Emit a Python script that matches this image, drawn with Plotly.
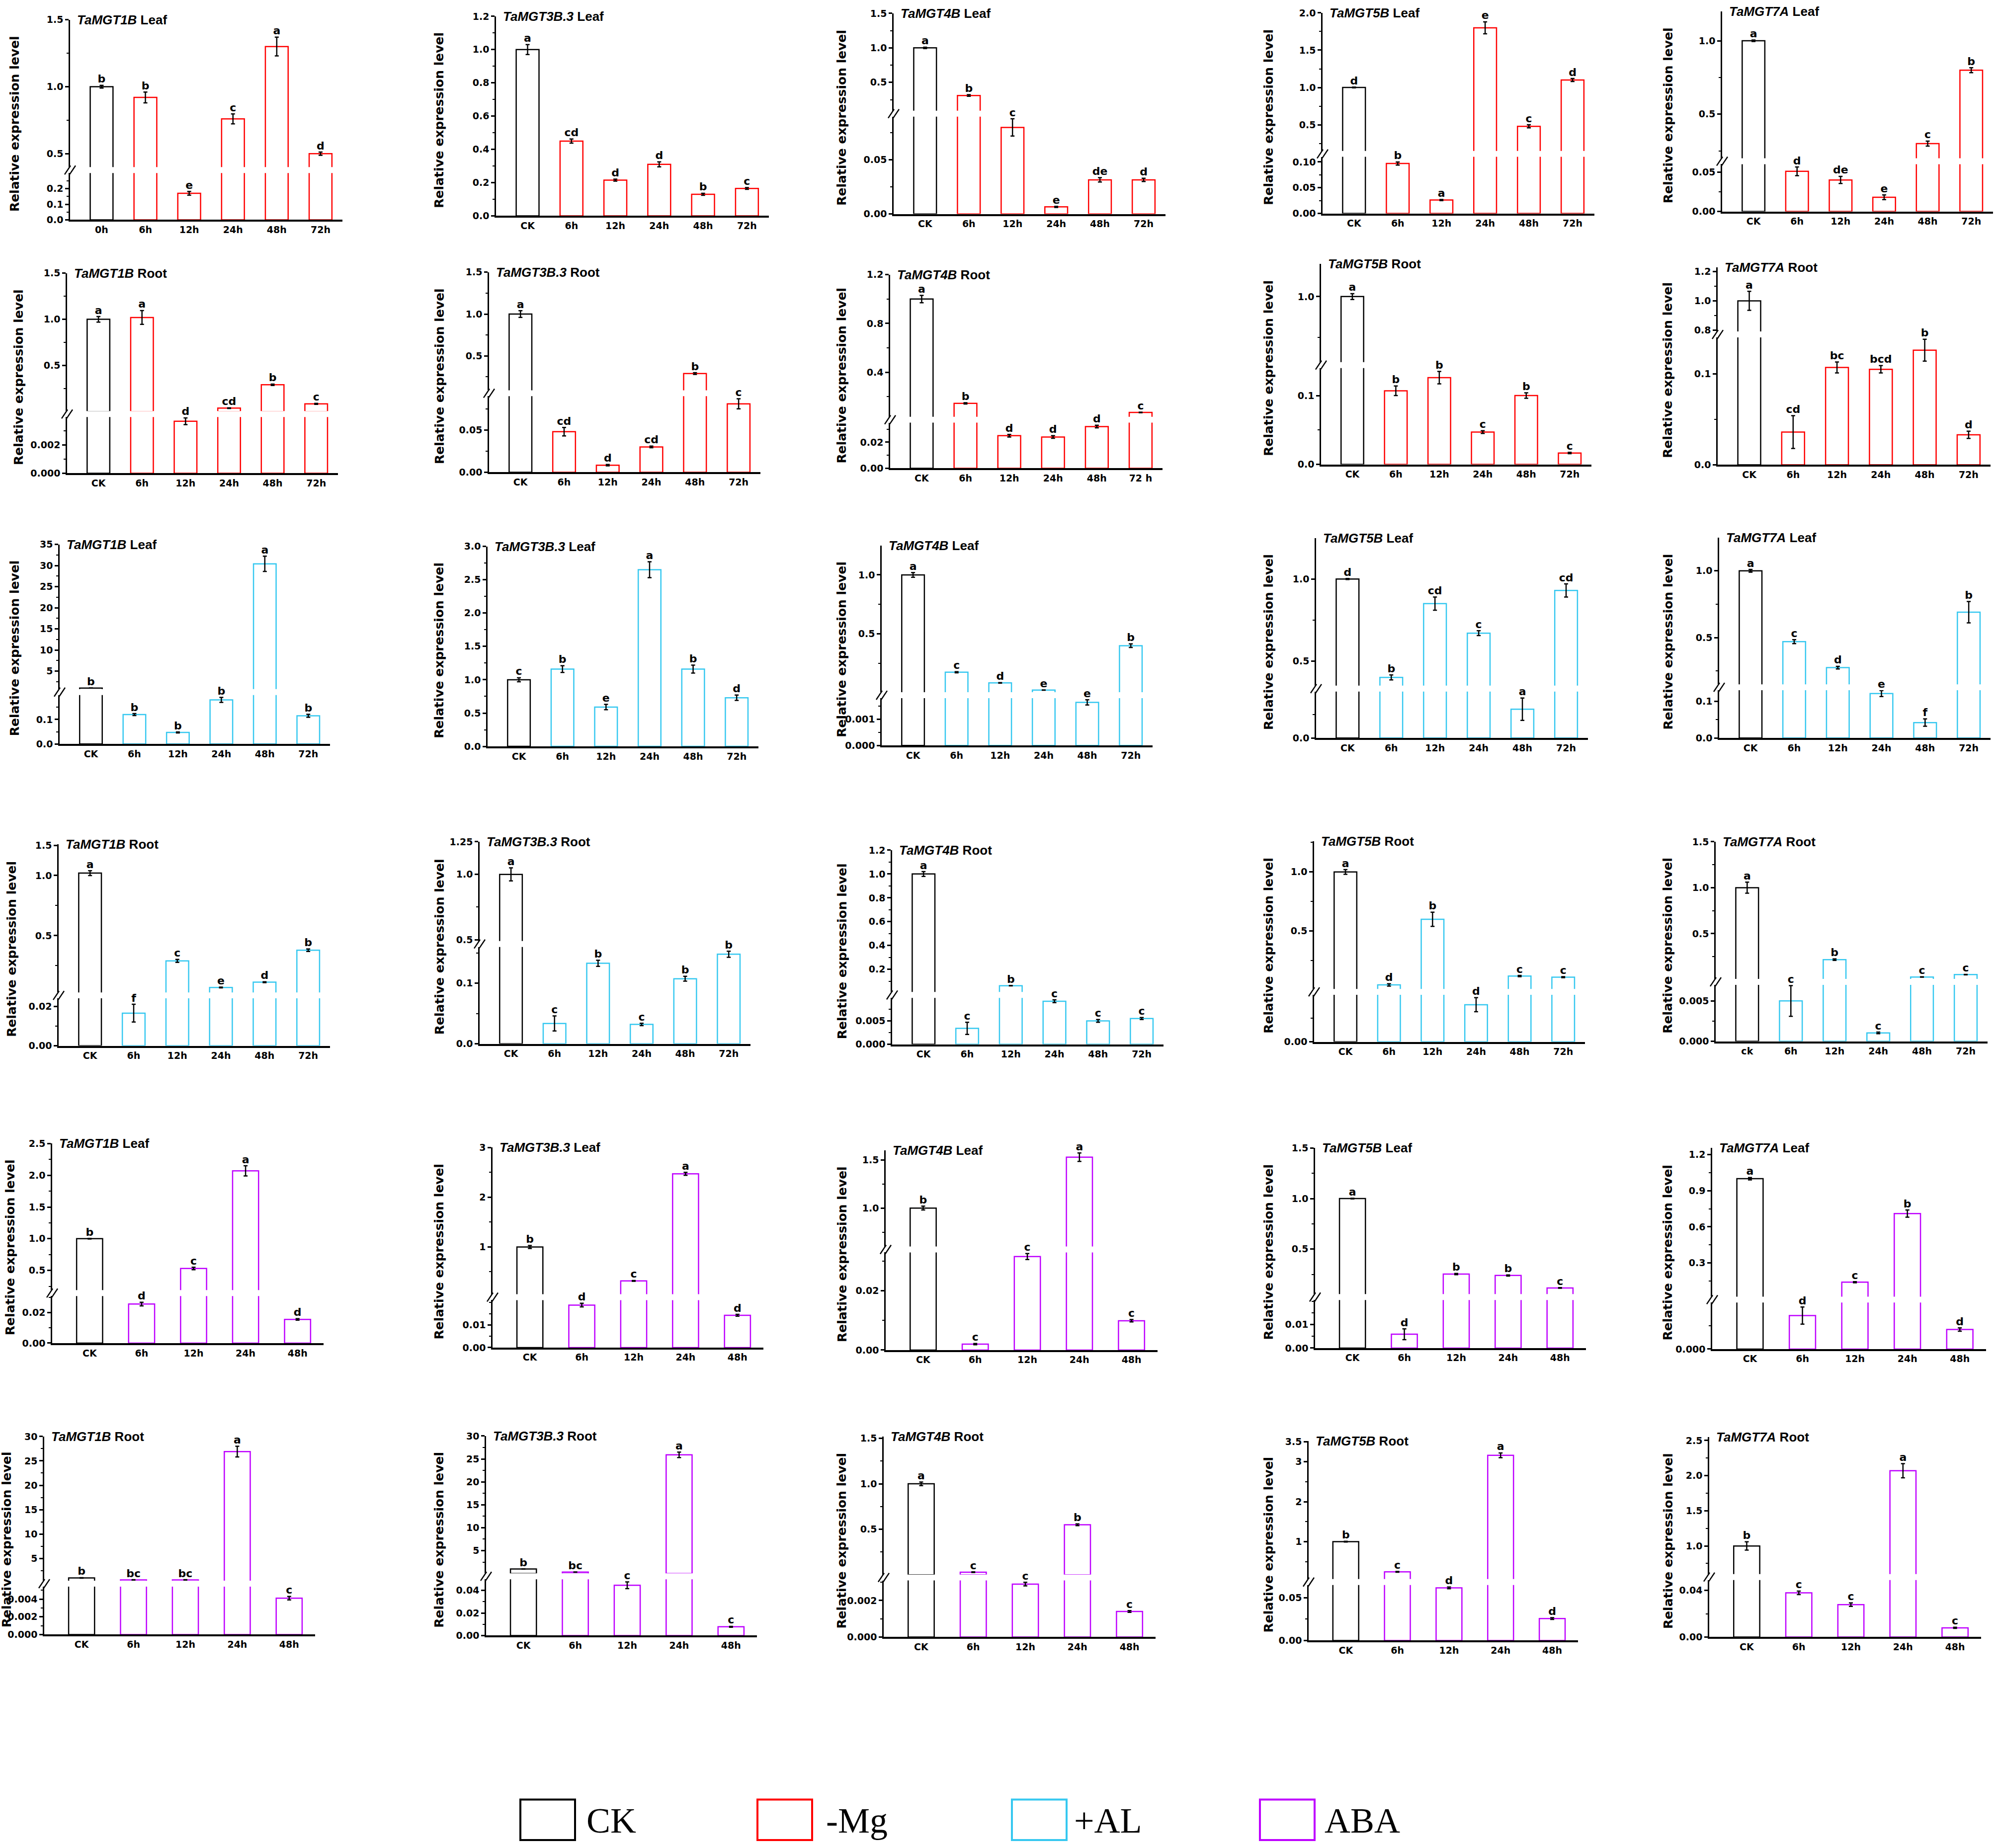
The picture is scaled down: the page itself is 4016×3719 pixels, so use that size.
import numpy as np
import plotly.graph_objects as go

W, H = 4016, 3719

genes = ["TaMGT1B", "TaMGT3B.3", "TaMGT4B", "TaMGT5B", "TaMGT7A"]
labels6 = ["CK", "6h", "12h", "24h", "48h", "72h"]
labels6_0h = ["0h", "6h", "12h", "24h", "48h", "72h"]
labels6_72sp = ["CK", "6h", "12h", "24h", "48h", "72 h"]
labels6_ck = ["ck", "6h", "12h", "24h", "48h", "72h"]
labels5 = ["CK", "6h", "12h", "24h", "48h"]
legend_names = ["CK", "-Mg", "+AL", "ABA"]

# ---------------- data ----------------
mg_leaf_values = [
    [1.00, 0.92, 0.17, 0.76, 1.30, 0.50],
    [1.00, 0.45, 0.215, 0.31, 0.13, 0.165],
    [1.00, 0.31, 0.080, 0.0065, 0.0315, 0.0315],
    [1.00, 0.097, 0.026, 1.80, 0.48, 1.10],
    [1.00, 0.051, 0.040, 0.018, 0.30, 0.80],
]
mg_leaf_errors = [
    [0.01, 0.04, 0.012, 0.037, 0.07, 0.012],
    [0.03, 0.012, 0.006, 0.015, 0.006, 0.005],
    [0.01, 0.012, 0.008, 0.0005, 0.002, 0.0015],
    [0.005, 0.003, 0.001, 0.08, 0.02, 0.02],
    [0.005, 0.0055, 0.0045, 0.003, 0.017, 0.017],
]
mg_leaf_letters = [
    ["b", "b", "e", "c", "a", "d"],
    ["a", "cd", "d", "d", "b", "c"],
    ["a", "b", "c", "e", "de", "d"],
    ["d", "b", "a", "e", "c", "d"],
    ["a", "d", "de", "e", "c", "b"],
]
mg_root_values = [
    [1.00, 1.02, 0.0037, 0.037, 0.29, 0.083],
    [1.00, 0.048, 0.0084, 0.030, 0.29, 0.081],
    [1.00, 0.145, 0.025, 0.024, 0.032, 0.070],
    [1.00, 0.107, 0.126, 0.047, 0.100, 0.0165],
    [1.00, 0.036, 0.107, 0.105, 0.126, 0.033],
]
mg_root_errors = [
    [0.03, 0.075, 0.00024, 0.003, 0.008, 0.005],
    [0.04, 0.005, 0.0008, 0.001, 0.01, 0.006],
    [0.03, 0.005, 0.001, 0.001, 0.001, 0.002],
    [0.018, 0.007, 0.009, 0.002, 0.004, 0.001],
    [0.065, 0.018, 0.006, 0.004, 0.012, 0.004],
]
mg_root_letters = [
    ["a", "a", "d", "cd", "b", "c"],
    ["a", "cd", "d", "cd", "b", "c"],
    ["a", "b", "d", "d", "d", "c"],
    ["a", "b", "b", "c", "b", "c"],
    ["a", "cd", "bc", "bcd", "b", "d"],
]
al_leaf_values = [
    [1.00, 0.12, 0.047, 0.18, 30.4, 0.115],
    [1.00, 1.16, 0.59, 2.65, 1.16, 0.73],
    [1.00, 0.175, 0.085, 0.024, 0.00164, 0.40],
    [1.00, 0.40, 0.85, 0.67, 0.062, 0.93],
    [1.00, 0.47, 0.275, 0.121, 0.042, 0.69],
]
al_leaf_errors = [
    [0.02, 0.004, 0.002, 0.01, 1.8, 0.006],
    [0.03, 0.05, 0.04, 0.12, 0.06, 0.04],
    [0.02, 0.005, 0.002, 0.001, 0.0001, 0.015],
    [0.003, 0.015, 0.04, 0.015, 0.024, 0.04],
    [0.01, 0.015, 0.01, 0.008, 0.01, 0.08],
]
al_leaf_letters = [
    ["b", "b", "b", "b", "a", "b"],
    ["c", "b", "e", "a", "b", "d"],
    ["a", "c", "d", "e", "e", "b"],
    ["d", "b", "cd", "c", "a", "cd"],
    ["a", "c", "d", "e", "f", "b"],
]
al_root_values = [
    [1.02, 0.0165, 0.29, 0.069, 0.113, 0.379],
    [1.00, 0.0336, 0.133, 0.032, 0.1075, 0.148],
    [1.00, 0.0034, 0.063, 0.0092, 0.0050, 0.0055],
    [1.00, 0.045, 0.60, 0.0079, 0.12, 0.11],
    [1.00, 0.0050, 0.217, 0.00104, 0.0285, 0.055],
]
al_root_errors = [
    [0.02, 0.0045, 0.012, 0.003, 0.004, 0.01],
    [0.05, 0.0125, 0.005, 0.002, 0.004, 0.005],
    [0.02, 0.0013, 0.002, 0.0003, 0.0003, 0.0002],
    [0.02, 0.01, 0.06, 0.0015, 0.005, 0.004],
    [0.06, 0.0019, 0.008, 0.0001, 0.002, 0.002],
]
al_root_letters = [
    ["a", "f", "c", "e", "d", "b"],
    ["a", "c", "b", "c", "b", "b"],
    ["a", "c", "b", "c", "c", "c"],
    ["a", "d", "b", "d", "c", "c"],
    ["a", "c", "b", "c", "c", "c"],
]
aba_leaf_values = [
    [1.00, 0.0257, 0.53, 2.07, 0.0156],
    [1.00, 0.0188, 0.318, 2.47, 0.0143],
    [1.00, 0.0020, 0.0316, 1.53, 0.0099],
    [1.00, 0.0059, 0.253, 0.239, 0.116],
    [1.00, 0.0144, 0.14, 0.71, 0.0084],
]
aba_leaf_errors = [
    [0.005, 0.0012, 0.02, 0.08, 0.0005],
    [0.03, 0.0008, 0.008, 0.03, 0.0004],
    [0.02, 0.0002, 0.001, 0.044, 0.0004],
    [0.003, 0.0023, 0.006, 0.006, 0.003],
    [0.01, 0.0037, 0.005, 0.03, 0.0007],
]
aba_leaf_letters = [
    ["b", "d", "c", "a", "d"],
    ["b", "d", "c", "a", "d"],
    ["b", "c", "c", "a", "c"],
    ["a", "d", "b", "b", "c"],
    ["a", "d", "c", "b", "d"],
]
aba_root_values = [
    [1.00, 0.60, 0.60, 26.9, 0.0041],
    [1.00, 0.32, 0.0447, 25.9, 0.0078],
    [1.00, 0.029, 0.0029, 0.55, 0.0014],
    [1.00, 0.246, 0.0616, 3.16, 0.0257],
    [1.00, 0.038, 0.0278, 2.07, 0.0079],
]
aba_root_errors = [
    [0.05, 0.04, 0.04, 1.1, 0.0002],
    [0.03, 0.02, 0.003, 0.6, 0.0004],
    [0.02, 0.003, 0.0001, 0.01, 0.00005],
    [0.01, 0.01, 0.001, 0.06, 0.001],
    [0.06, 0.0015, 0.0015, 0.1, 0.0005],
]
aba_root_letters = [
    ["b", "bc", "bc", "a", "c"],
    ["b", "bc", "c", "a", "c"],
    ["a", "c", "c", "b", "c"],
    ["b", "c", "d", "a", "d"],
    ["b", "c", "c", "a", "c"],
]

# ---------------- styling ----------------
CK_COLOR = "#000000"
TREAT_COLORS = {"-Mg": "#FF0000", "+AL": "#36C8F0", "ABA": "#BE00FF"}

rows = [
    ("Leaf", "-Mg", mg_leaf_values, mg_leaf_errors, mg_leaf_letters),
    ("Root", "-Mg", mg_root_values, mg_root_errors, mg_root_letters),
    ("Leaf", "+AL", al_leaf_values, al_leaf_errors, al_leaf_letters),
    ("Root", "+AL", al_root_values, al_root_errors, al_root_letters),
    ("Leaf", "ABA", aba_leaf_values, aba_leaf_errors, aba_leaf_letters),
    ("Root", "ABA", aba_root_values, aba_root_errors, aba_root_letters),
]

xlabel_sets = [labels6] * 20 + [labels5] * 10
xlabel_sets[0] = labels6_0h
xlabel_sets[7] = labels6_72sp
xlabel_sets[19] = labels6_ck

# broken-axis specs: lower range [0, lo], upper range hi=(U, T), b = break position (fraction)
axis_specs = [
    dict(lo=0.30, hi=(0.40, 1.5), b=0.249, lt=["0.0", "0.1", "0.2"], lm=0.05, ht=["0.5", "1.0", "1.5"], hm=0.25),
    dict(lo=1.2, hi=None, b=None, lt=["0.0", "0.2", "0.4", "0.6", "0.8", "1.0", "1.2"], lm=0.1),
    dict(lo=0.09, hi=(0.09, 1.5), b=0.50, lt=["0.00", "0.05"], lm=0.025, ht=["0.5", "1.0", "1.5"], hm=0.25),
    dict(lo=0.11, hi=(0.15, 2.0), b=0.297, lt=["0.00", "0.05", "0.10"], lm=0.025, ht=["0.5", "1.0", "1.5", "2.0"], hm=0.25),
    dict(lo=0.06, hi=(0.20, 1.2), b=0.251, lt=["0.00", "0.05"], lm=0.025, ht=["0.5", "1.0"], hm=0.25),

    dict(lo=0.004, hi=(0.005, 1.5), b=0.296, lt=["0.000", "0.002"], lm=0.001, ht=["0.5", "1.0", "1.5"], hm=0.25),
    dict(lo=0.09, hi=(0.09, 1.5), b=0.395, lt=["0.00", "0.05"], lm=0.025, ht=["0.5", "1.0", "1.5"], hm=0.25),
    dict(lo=0.035, hi=(0.035, 1.2), b=0.251, lt=["0.00", "0.02"], lm=0.01, ht=["0.4", "0.8", "1.2"], hm=0.2),
    dict(lo=0.14, hi=(0.60, 1.2), b=0.495, lt=["0.0", "0.1"], lm=0.05, ht=["1.0"], hm=0.25),
    dict(lo=0.14, hi=(0.79, 1.23), b=0.66, lt=["0.0", "0.1"], lm=0.05, ht=["0.8", "1.0", "1.2"], hm=0.1),

    dict(lo=0.2, hi=(0.75, 35), b=0.26, lt=["0.0", "0.1"], lm=0.05, ht=["5", "10", "15", "20", "25", "30", "35"], hm=2.5),
    dict(lo=3.0, hi=None, b=None, lt=["0.0", "0.5", "1.0", "1.5", "2.0", "2.5", "3.0"], lm=0.25),
    dict(lo=0.0018, hi=(0.0055, 1.25), b=0.251, lt=["0.000", "0.001"], lm=0.0005, ht=["0.5", "1.0"], hm=0.25),
    dict(lo=0.10, hi=(0.35, 1.25), b=0.247, lt=["0.0"], lm=0.05, ht=["0.5", "1.0"], hm=0.25),
    dict(lo=0.13, hi=(0.15, 1.25), b=0.253, lt=["0.0", "0.1"], lm=0.05, ht=["0.5", "1.0"], hm=0.25),

    dict(lo=0.024, hi=(0.028, 1.26), b=0.25, lt=["0.00", "0.02"], lm=0.01, ht=["0.5", "1.0", "1.5"], htv=[0.5, 1.0, 1.25], hm=0.25),
    dict(lo=0.16, hi=(0.49, 1.25), b=0.494, lt=["0.0", "0.1"], lm=0.05, ht=["0.5", "1.0", "1.25"], hm=0.25),
    dict(lo=0.0099, hi=(0.01, 1.2), b=0.254, lt=["0.000", "0.005"], lm=0.0025, ht=["0.2", "0.4", "0.6", "0.8", "1.0", "1.2"], hm=0.1),
    dict(lo=0.010, hi=(0.011, 1.26), b=0.249, lt=["0.00"], lm=0.005, ht=["0.5", "1.0"], hm=0.25),
    dict(lo=0.007, hi=(0.008, 1.5), b=0.298, lt=["0.000", "0.005"], lm=0.0025, ht=["0.5", "1.0", "1.5"], hm=0.25),

    dict(lo=0.031, hi=(0.19, 2.5), b=0.251, lt=["0.00", "0.02"], lm=0.01, ht=["0.5", "1.0", "1.5", "2.0", "2.5"], hm=0.25),
    dict(lo=0.021, hi=(0.05, 3.0), b=0.252, lt=["0.00", "0.01"], lm=0.005, ht=["1", "2", "3"], hm=0.5),
    dict(lo=0.033, hi=(0.60, 1.6), b=0.504, lt=["0.00", "0.02"], lm=0.01, ht=["1.0", "1.5"], hm=0.25),
    dict(lo=0.0205, hi=(0.055, 1.5), b=0.255, lt=["0.00", "0.01"], lm=0.005, ht=["0.5", "1.0", "1.5"], hm=0.25),
    dict(lo=0.020, hi=(0.02, 1.255), b=0.246, lt=["0.000"], lm=0.01, ht=["0.3", "0.6", "0.9", "1.2"], hm=0.15),

    dict(lo=0.0054, hi=(0.43, 30), b=0.257, lt=["0.000", "0.002", "0.004"], lm=0.001, ht=["5", "10", "15", "20", "25", "30"], hm=2.5),
    dict(lo=0.05, hi=(0.05, 30), b=0.297, lt=["0.00", "0.02", "0.04"], lm=0.01, ht=["5", "10", "15", "20", "25", "30"], hm=2.5),
    dict(lo=0.0031, hi=(0.0031, 1.52), b=0.297, lt=["0.000", "0.002"], lm=0.001, ht=["0.5", "1.0", "1.5"], hm=0.25),
    dict(lo=0.065, hi=(0.065, 3.52), b=0.293, lt=["0.00", "0.05"], lm=0.025, ht=["1", "2", "3", "3.5"], hm=0.5),
    dict(lo=0.049, hi=(0.60, 2.55), b=0.30, lt=["0.00", "0.04"], lm=0.02, ht=["1.0", "1.5", "2.0", "2.5"], hm=0.25),
]

# panel boxes in pixels: (left, right, top, bottom)
boxes = [
    (141, 689, 29, 434), (998, 1547, 22, 426), (1798, 2345, 16, 422), (2661, 3208, 15, 421), (3465, 4010, 12, 417),
    (135, 680, 542, 947), (984, 1530, 540, 945), (1791, 2339, 545, 937), (2658, 3202, 523, 929), (3456, 4005, 530, 930),
    (120, 664, 1091, 1495), (981, 1526, 1095, 1500), (1774, 2319, 1093, 1498), (2648, 3195, 1078, 1483), (3459, 4005, 1077, 1483),
    (118, 664, 1698, 2106), (965, 1510, 1693, 2102), (1795, 2341, 1710, 2103), (2644, 3189, 1692, 2098), (3452, 3999, 1693, 2097),
    (105, 651, 2304, 2708), (991, 1536, 2312, 2717), (1782, 2329, 2318, 2722), (2646, 3191, 2313, 2718), (3445, 3996, 2313, 2720),
    (89, 634, 2897, 3298), (978, 1523, 2896, 3300), (1778, 2325, 2897, 3303), (2633, 3175, 2906, 3310), (3439, 3986, 2898, 3303),
]
ytitle_x_col1 = [29, 37, 29, 24, 20, 13]
ytitle_x_cols = [884, 1694, 2553, 3356]

TICKFONT = dict(family="DejaVu Sans", size=19, color="black", weight="bold")
LETTERFONT = dict(family="DejaVu Sans", size=22, color="black", weight="bold")


def axkey(kind, i):
    return f"{kind}axis" if i == 1 else f"{kind}axis{i}"


def axref(kind, i):
    return kind if i == 1 else f"{kind}{i}"


def px2x(px):
    return px / W


def px2y(py):
    return 1 - py / H


def minor_vals(lo, hi, step, majors):
    n0 = int(np.ceil(lo / step + 1e-6))
    n1 = int(np.floor(hi / step - 1e-6))
    out = []
    for i in range(n0, n1 + 1):
        v = i * step
        if all(abs(v - m) > step * 1e-3 for m in majors):
            out.append(v)
    return out


def yaxis_dict(domain, xid, rng, ttext, tvals, mstep):
    return dict(
        domain=domain, anchor=axref("x", xid), range=list(rng),
        showline=True, linecolor="black", linewidth=2.5,
        ticks="outside", ticklen=7, tickwidth=2.5, tickcolor="black",
        tickmode="array", tickvals=tvals, ticktext=ttext, tickfont=TICKFONT,
        showgrid=False, zeroline=False, fixedrange=True,
        minor=dict(tickmode="array", tickvals=minor_vals(rng[0], rng[1], mstep, tvals),
                   ticks="outside", ticklen=4, tickwidth=2, tickcolor="black", showgrid=False),
    )


fig = go.Figure()
layout = dict(width=W, height=H, autosize=False, margin=dict(l=0, r=0, t=0, b=0),
              paper_bgcolor="white", plot_bgcolor="white", showlegend=False)
annotations, shapes = [], []

for r, (tissue, treat, vals_rows, errs_rows, lets_rows) in enumerate(rows):
    tcolor = TREAT_COLORS[treat]
    for c in range(5):
        k = r * 5 + c
        v, e, lets = vals_rows[c], errs_rows[c], lets_rows[c]
        xl = xlabel_sets[k]
        sp = axis_specs[k]
        left, right, top, bot = boxes[k]
        n = len(v)
        bw = 0.52 if n == 6 else 0.5
        xid, ylo, yhi = k + 1, 2 * k + 1, 2 * k + 2
        y0, y1 = px2y(bot), px2y(top)
        hh = y1 - y0
        gap = 12.0 / (bot - top)

        layout[axkey("x", xid)] = dict(
            domain=[px2x(left), px2x(right)], anchor=axref("y", ylo), type="category",
            categoryorder="array", categoryarray=xl, range=[-0.72, n - 0.5],
            showline=True, linecolor="black", linewidth=3.5, ticks="",
            tickfont=TICKFONT, showgrid=False, zeroline=False, fixedrange=True)

        lt_vals = [float(t) for t in sp["lt"]]
        segments = []
        if sp["hi"] is None:
            layout[axkey("y", ylo)] = yaxis_dict([y0, y1], xid, (0, sp["lo"]), sp["lt"], lt_vals, sp["lm"])
            segments.append((ylo, True))
        else:
            b = sp["b"]
            dlo = [y0, y0 + (b - gap / 2) * hh]
            dhi = [y0 + (b + gap / 2) * hh, y1]
            layout[axkey("y", ylo)] = yaxis_dict(dlo, xid, (0, sp["lo"]), sp["lt"], lt_vals, sp["lm"])
            ht_vals = sp.get("htv") or [float(t) for t in sp["ht"]]
            layout[axkey("y", yhi)] = yaxis_dict(dhi, xid, sp["hi"], sp["ht"], ht_vals, sp["hm"])
            segments.append((ylo, True))
            segments.append((yhi, False))
            # break marks on the y axis
            yc = bot - b * (bot - top)
            for d in (-5, 5):
                shapes.append(dict(type="line", xref="paper", yref="paper",
                                   x0=px2x(left + d - 6), y0=px2y(yc + 9),
                                   x1=px2x(left + d + 6), y1=px2y(yc - 9),
                                   line=dict(color="black", width=2.5)))

        line_colors = [CK_COLOR] + [tcolor] * (n - 1)
        for yid, is_lower in segments:
            if is_lower:
                yv, ev = list(v), list(e)
            else:
                umin = sp["hi"][0]
                yv = [val if val > umin else None for val in v]
                ev = [err if val > umin else 0 for val, err in zip(v, e)]
            fig.add_trace(go.Bar(
                x=xl, y=yv, width=bw, offset=-bw / 2,
                marker=dict(color="white", line=dict(color=line_colors, width=2.5)),
                error_y=dict(type="data", array=ev, visible=True, color="black", thickness=2.5, width=4),
                xaxis=axref("x", xid), yaxis=axref("y", yid), hoverinfo="skip"))
            if sp["hi"] is None:
                idx = list(range(n))
            else:
                idx = [i for i in range(n) if (v[i] <= sp["lo"]) == is_lower]
            if idx:
                fig.add_trace(go.Scatter(
                    x=[xl[i] for i in idx], y=[v[i] + e[i] for i in idx],
                    text=[lets[i] for i in idx], mode="text", textposition="top center",
                    textfont=LETTERFONT, cliponaxis=False,
                    xaxis=axref("x", xid), yaxis=axref("y", yid), hoverinfo="skip"))

        # panel title
        annotations.append(dict(
            text=f"<b><i>{genes[c]}</i> {tissue}</b>", xref="paper", yref="paper",
            x=px2x(left + 12), y=px2y(top), xanchor="left", yanchor="middle", showarrow=False,
            font=dict(family="Liberation Sans", size=26, color="black")))
        # y-axis title
        tx = ytitle_x_col1[r] if c == 0 else ytitle_x_cols[c - 1]
        annotations.append(dict(
            text="<b>Relative expression level</b>", xref="paper", yref="paper",
            x=px2x(tx), y=px2y((top + bot) / 2 + 8), xanchor="center", yanchor="middle",
            textangle=-90, showarrow=False,
            font=dict(family="DejaVu Sans", size=25, color="black")))

# legend drawn as boxes + labels
legend_colors = [CK_COLOR, TREAT_COLORS["-Mg"], TREAT_COLORS["+AL"], TREAT_COLORS["ABA"]]
legend_box_x = [1047, 1524, 2036, 2535]
legend_text_x = [1178, 1660, 2159, 2663]
for name, col, bx, tx in zip(legend_names, legend_colors, legend_box_x, legend_text_x):
    shapes.append(dict(type="rect", xref="paper", yref="paper",
                       x0=px2x(bx), x1=px2x(bx + 110), y0=px2y(3714), y1=px2y(3632),
                       line=dict(color=col, width=4), fillcolor="rgba(0,0,0,0)"))
    annotations.append(dict(text=name, xref="paper", yref="paper", x=px2x(tx), y=px2y(3675),
                            xanchor="left", yanchor="middle", showarrow=False,
                            font=dict(family="Liberation Serif", size=72, color="black")))

layout["annotations"] = annotations
layout["shapes"] = shapes
fig.update_layout(**layout)

fig.write_html("out.html", config={"displayModeBar": False},
               post_script="document.body.style.margin='0';")
